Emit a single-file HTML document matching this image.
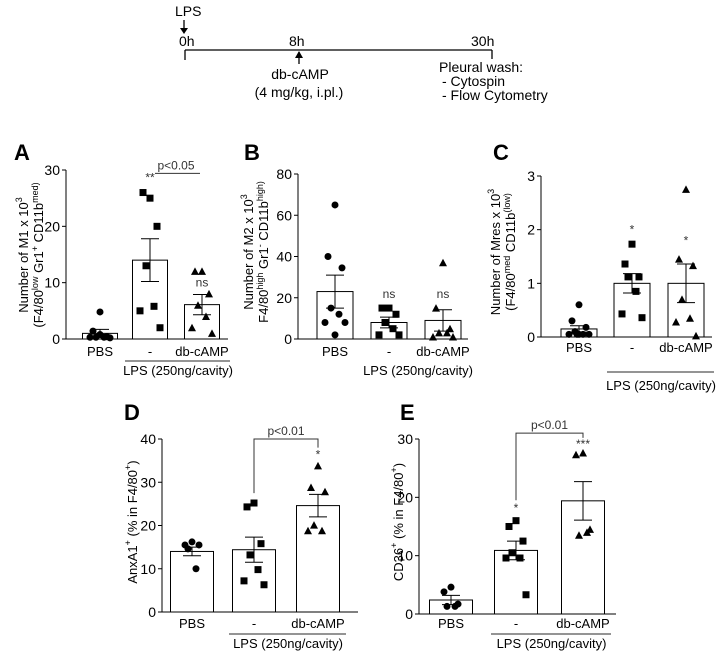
<!DOCTYPE html>
<html><head><meta charset="utf-8"><style>
html,body{margin:0;padding:0;background:#fff;overflow:hidden;width:726px;height:656px}
svg{display:block;font-family:"Liberation Sans",Arial,sans-serif}
</style></head><body>
<svg id="fig" width="726" height="656" viewBox="0 0 726 656">
<g font-size="14" fill="#000">
<text x="175" y="16">LPS</text>
<line x1="184" y1="20" x2="184" y2="30" stroke="#000" stroke-width="1.3"/>
<polygon points="180,28 188,28 184,34" fill="#000"/>
<text x="179" y="46">0h</text>
<text x="289" y="46">8h</text>
<text x="471" y="46">30h</text>
<line x1="185" y1="50" x2="492" y2="50" stroke="#000" stroke-width="1.3"/>
<line x1="185" y1="50" x2="185" y2="60" stroke="#000" stroke-width="1.3"/>
<line x1="492" y1="50" x2="492" y2="59" stroke="#000" stroke-width="1.3"/>
<line x1="299" y1="52" x2="299" y2="64" stroke="#000" stroke-width="1.3"/>
<polygon points="295,58 303,58 299,51" fill="#000"/>
<text x="300" y="79" text-anchor="middle">db-cAMP</text>
<text x="299" y="97" text-anchor="middle">(4 mg/kg, i.pl.)</text>
<text x="439" y="72">Pleural wash:</text>
<text x="442" y="86"> - Cytospin</text>
<text x="442" y="100"> - Flow Cytometry</text>
</g>
</svg>
<script>
// ===== data =====
const groups = ["PBS", "-", "db-cAMP"];
// Panel A
const aTicks = [0, 10, 20, 30];
const aMeans = [1.0, 14.0, 6.1];
const aSem = [0.7, 3.8, 1.8];
const aPBS = [4.8, 1.4, 0.4, 0.3, 0.3, 0.3, 0.2, 0.8];
const aLPS = [25, 26, 20, 13, 5.8, 5, 2];
const aDb = [12, 12, 8, 6, 4, 2, 1];
// Panel B
const bTicks = [0, 20, 40, 60, 80];
const bMeans = [23, 8, 9];
const bSem = [8, 2.6, 5.2];
const bPBS = [65, 40, 34.5, 15, 12, 8, 8, 2];
const bLPS = [15, 15, 12, 8, 5, 2, 2];
const bDb = [37, 15, 5, 3, 3, 1, 1];
// Panel C
const cTicks = [0, 1, 2, 3];
const cMeans = [0.15, 1.0, 1.0];
const cSem = [0.06, 0.18, 0.36];
const cPBS = [0.6, 0.3, 0.18, 0.1, 0.05, 0.05, 0.05, 0.05, 0.05];
const cLPS = [1.73, 1.36, 1.12, 1.12, 0.85, 0.43, 0.36];
const cDb = [2.75, 1.45, 1.33, 0.7, 0.35, 0.28, 0.02];
// Panel D
const dTicks = [0, 10, 20, 30, 40];
const dMeans = [14, 14.4, 24.6];
const dSem = [1.0, 2.9, 2.6];
const dPBS = [16.2, 15.5, 15.5, 14.6, 10];
const dLPS = [25.2, 24.3, 15.8, 13.2, 9.8, 7.2, 6.3];
const dDb = [33.8, 28.8, 27.8, 20.1, 18.8, 18.8];
// Panel E
const eTicks = [0, 10, 20, 30];
const eMeans = [2.4, 10.9, 19.4];
const eSem = [0.8, 1.6, 3.3];
const ePBS = [4.6, 3.8, 1.7, 1.3, 1.3];
const eLPS = [16, 15, 12.5, 10.5, 9.6, 9.6, 3.3];
const eDb = [27.6, 27.3, 14.5, 13.5, 14];

const NS = "http://www.w3.org/2000/svg";
const svg = document.getElementById('fig');
function mk(tag, attrs, parent, txt){
  const e = document.createElementNS(NS, tag);
  for (const k in attrs) e.setAttribute(k, attrs[k]);
  if (txt !== undefined) e.textContent = txt;
  (parent || svg).appendChild(e);
  return e;
}
const jit = [0, -7, 7, -4, 4, -10, 10, 0, -2];

function panel(cfg){
  const g = mk('g', {});
  
  
  const max = cfg.ticks[cfg.ticks.length-1];
  const y = v => cfg.y0 - (v / max) * (cfg.y0 - cfg.yTop);
  const ax = mk('line', {x1: cfg.ax, y1: cfg.yTop, x2: cfg.ax, y2: cfg.y0, stroke:'#000','stroke-width':1}, g);
  
  
  const bx = mk('line', {x1: cfg.ax - 4, y1: cfg.y0, x2: cfg.axEnd, y2: cfg.y0, stroke:'#000','stroke-width':1}, g);
  
  
  cfg.ticks.forEach(t => {
    mk('line', {x1: cfg.ax - 4, y1: y(t), x2: cfg.ax, y2: y(t), stroke:'#000'}, g);
    const tl = mk('text', {x: cfg.ax - 6, y: y(t) + 5, 'text-anchor':'end', 'font-size': 14}, g, t);
    
    
  });
  const series = [cfg.s0, cfg.s1, cfg.s2];
  const shapes = ['circle', 'square', 'triangle'];
  cfg.means.forEach((m, i) => {
    const cx = cfg.cx[i];
    const r = mk('rect', {x: cx - cfg.bw/2, y: y(m), width: cfg.bw, height: cfg.y0 - y(m), fill:'#fff', stroke:'#000', 'stroke-width':1}, g);
    
    
    series[i].forEach((v, j) => {
      const px = cx + jit[j % jit.length], py = y(v);
      let p;
      if (shapes[i] === 'circle') p = mk('circle', {cx: px, cy: py, r: 3.5, fill:'#000'}, g);
      else if (shapes[i] === 'square') p = mk('rect', {x: px - 3.5, y: py - 3.5, width: 7, height: 7, fill:'#000'}, g);
      else p = mk('polygon', {points: `${px-4},${py+3.5} ${px+4},${py+3.5} ${px},${py-4}`, fill:'#000'}, g);
      
      
    });
    const s = cfg.sem[i];
    const e = mk('g', {}, g);
    
    
    mk('line', {x1: cx, y1: y(m + s), x2: cx, y2: y(m - s), stroke:'#000'}, e);
    mk('line', {x1: cx - 9, y1: y(m + s), x2: cx + 9, y2: y(m + s), stroke:'#000'}, e);
    mk('line', {x1: cx - 9, y1: y(m - s), x2: cx + 9, y2: y(m - s), stroke:'#000'}, e);
    const xl = mk('text', {x: cx, y: cfg.labY, 'text-anchor':'middle', 'font-size': 13}, g, groups[i]);
    
    
  });
  const l = mk('line', {x1: cfg.cx[1] - 25, y1: cfg.lpsLine, x2: cfg.cx[2] + 28, y2: cfg.lpsLine, stroke:'#555', 'stroke-width':1.3}, g);
  
  
  const lt = mk('text', {x: (cfg.cx[1] + cfg.cx[2]) / 2 + 2, y: cfg.lpsText, 'text-anchor':'middle', 'font-size': 13}, g, 'LPS (250ng/cavity)');
  
  
  (cfg.ann || []).forEach(a => {
    const t = mk('text', {x: cfg.cx[a[0]], y: y(a[1]), 'text-anchor':'middle', 'font-size': 12, fill:'#333'}, g, a[2]);
    
    
  });
  if (cfg.bracket) {
    const b = cfg.bracket;
    const bg = mk('g', {}, g);
    
    
    if (b.legs) {
      mk('polyline', {points: `${cfg.cx[1]},${y(b.l)} ${cfg.cx[1]},${y(b.top)} ${cfg.cx[2]},${y(b.top)} ${cfg.cx[2]},${y(b.r)}`, fill:'none', stroke:'#333'}, bg);
    } else {
      mk('line', {x1: cfg.cx[1] + 5, y1: y(b.top), x2: cfg.cx[2] - 2, y2: y(b.top), stroke:'#333'}, bg);
    }
    mk('text', {x: (cfg.cx[1] + cfg.cx[2]) / 2, y: y(b.top) - 4, 'text-anchor':'middle', 'font-size': 12, fill:'#333'}, bg, b.label);
  }
  const tg = mk('text', {transform: `translate(${cfg.titleX},${cfg.titleY}) rotate(-90)`, 'text-anchor':'middle', 'font-size': 13}, g);
  
  
  cfg.title(tg);
  const L = mk('text', {x: cfg.letterX, y: cfg.letterY, 'font-size': 22, 'font-weight':'bold'}, g, cfg.letter);
  
  
}
function ts(parent, txt, attrs){ return mk('tspan', attrs || {}, parent, txt); }

panel({name:'panel-a', letter:'A', letterX:14, letterY:160, ticks:aTicks, means:aMeans, sem:aSem, s0:aPBS, s1:aLPS, s2:aDb,
  ax:66, axEnd:228, y0:339, yTop:170, cx:[100,150,202], bw:35, labY:356, lpsLine:361, lpsText:375,
  ann:[[1,28,'**'],[2,9.3,'ns']], bracket:{top:29.4, label:'p<0.05'},
  titleX:28, titleY:255, title:t=>{
    ts(t,'Number of M1 x 10',{x:0,dy:0}); ts(t,'3',{dy:-6,'font-size':9});
    ts(t,'(F4/80',{x:0,dy:21}); ts(t,'low',{dy:-5,'font-size':9}); ts(t,' Gr1',{dy:5}); ts(t,'+',{dy:-5,'font-size':9}); ts(t,' CD11b',{dy:5}); ts(t,'med)',{dy:-5,'font-size':9});
  }});
panel({name:'panel-b', letter:'B', letterX:244, letterY:160, ticks:bTicks, means:bMeans, sem:bSem, s0:bPBS, s1:bLPS, s2:bDb,
  ax:298, axEnd:468, y0:339, yTop:174, cx:[335,389,443], bw:36, labY:356, lpsLine:999, lpsText:375,
  ann:[[1,20,'ns'],[2,20,'ns']],
  titleX:253, titleY:252, title:t=>{
    ts(t,'Number of M2 x 10',{x:0,dy:0}); ts(t,'3',{dy:-6,'font-size':9});
    ts(t,'F4/80',{x:0,dy:21}); ts(t,'high',{dy:-5,'font-size':9}); ts(t,' Gr1',{dy:5}); ts(t,'-',{dy:-5,'font-size':9}); ts(t,' CD11b',{dy:5}); ts(t,'high)',{dy:-5,'font-size':9});
  }});
panel({name:'panel-c', letter:'C', letterX:493, letterY:160, ticks:cTicks, means:cMeans, sem:cSem, s0:cPBS, s1:cLPS, s2:cDb,
  ax:541, axEnd:712, y0:337, yTop:176, cx:[579,632,686], bw:36, labY:352, lpsLine:372, lpsText:390,
  ann:[[1,1.93,'*'],[2,1.72,'*']],
  titleX:500, titleY:252, title:t=>{
    ts(t,'Number of Mres x 10',{x:0,dy:0}); ts(t,'3',{dy:-6,'font-size':9});
    ts(t,'(F4/80',{x:0,dy:21}); ts(t,'med',{dy:-5,'font-size':9}); ts(t,' CD11b',{dy:5}); ts(t,'(low)',{dy:-5,'font-size':9});
  }});
panel({name:'panel-d', letter:'D', letterX:124, letterY:420, ticks:dTicks, means:dMeans, sem:dSem, s0:dPBS, s1:dLPS, s2:dDb,
  ax:162, axEnd:358, y0:612, yTop:439, cx:[192,254,318], bw:43, labY:628, lpsLine:634, lpsText:648,
  ann:[[2,35.5,'*']], bracket:{legs:true, top:40, l:27.5, r:38, label:'p<0.01'},
  titleX:137, titleY:522, title:t=>{
    ts(t,'AnxA1',{x:0,dy:0}); ts(t,'+',{dy:-6,'font-size':9}); ts(t,' (% in F4/80',{dy:6}); ts(t,'+',{dy:-6,'font-size':9}); ts(t,')',{dy:6});
  }});
panel({name:'panel-e', letter:'E', letterX:400, letterY:420, ticks:eTicks, means:eMeans, sem:eSem, s0:ePBS, s1:eLPS, s2:eDb,
  ax:419, axEnd:616, y0:614, yTop:439, cx:[451,516,583], bw:43, labY:628, lpsLine:634, lpsText:648,
  ann:[[1,17.5,'*'],[2,28.5,'***']], bracket:{legs:true, top:31, l:19.5, r:30.2, label:'p<0.01'},
  titleX:403, titleY:522, title:t=>{
    ts(t,'CD36',{x:0,dy:0}); ts(t,'+',{dy:-6,'font-size':9}); ts(t,' (% in F4/80',{dy:6}); ts(t,'+',{dy:-6,'font-size':9}); ts(t,')',{dy:6});
  }});
</script>
</body></html>
